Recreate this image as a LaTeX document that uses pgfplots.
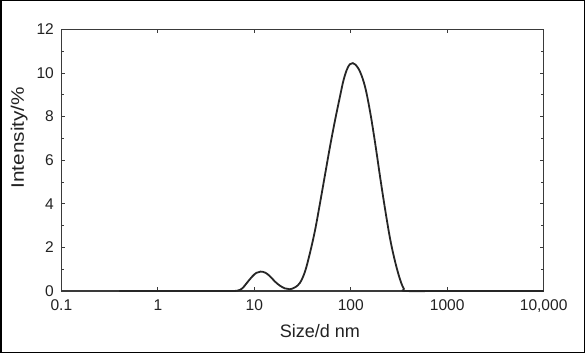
\documentclass[border=0pt]{standalone}
\usepackage{pgfplots}
\pgfplotsset{compat=1.18}
\usepackage{fontspec}
\setmainfont{Liberation Sans}
\definecolor{axgray}{HTML}{3A3A3A}
\definecolor{txt}{HTML}{222222}
\begin{document}
\begin{tikzpicture}[x=1pt,y=1pt]
\draw[line width=1.5pt,black] (1.5,1.5) rectangle (583.5,352.5);
\begin{axis}[
  at={(62pt,63pt)}, anchor=south west,
  scale only axis, width=481pt, height=261pt,
  xmode=log, xmin=0.1, xmax=10000, ymin=0, ymax=12,
  log basis x=10,
  xtick={0.1,1,10,100,1000,10000},
  xticklabels={0.1,1,10,100,1000,{10,000}},
  ytick={0,2,4,6,8,10,12},
  minor ytick={1,3,5,7,9,11},
  tick align=inside,
  major tick length=4pt, minor tick length=3pt,
  axis line style={axgray, line width=1.6pt},
  every tick/.style={axgray, line width=0.8pt},
  tick label style={font=\fontsize{15.5}{17}\selectfont, text=txt},
  xticklabel style={yshift=-5pt},
  yticklabel style={xshift=-4pt},
  label style={font=\fontsize{18}{20}\selectfont, text=txt},
  xlabel={Size/d nm},
  ylabel={\scalebox{1.15}[1]{Intensity/\%}},
  xlabel style={at={(rel axis cs:0.536,0)}, anchor=north, yshift=-30pt},
  ylabel style={at={(rel axis cs:0,0.586)}, anchor=center, yshift=42pt},
  /pgf/number format/assume math mode=true,
  clip=false,
]
\addplot[black!85, line width=1.8pt, smooth, tension=0.6] coordinates {
(0.4,0) (1,0) (2,0) (5,0) (6.6,0.01) (7.5,0.12) (8.3,0.35) (9.5,0.66)
(10.5,0.83) (11.6,0.89) (13,0.84) (14.5,0.68) (16.4,0.43) (18.5,0.24)
(20.8,0.12) (23.4,0.08) (26.5,0.17) (29.8,0.38) (33.6,0.9) (37.8,1.75)
(42.7,2.8) (48.1,4.05) (54.2,5.35) (61.1,6.65) (68.9,7.85) (77.6,8.95)
(84,9.65) (91.1,10.15) (98,10.4) (105,10.45) (112,10.38) (125,10.05) (141,9.35) (159,8.2) (179.5,6.75)
(202,5.2) (228,3.7) (257,2.35) (290,1.3) (326,0.5) (355,0.1) (375,0)
(1000,0) (10000,0)
};
\end{axis}
\end{tikzpicture}
\end{document}
